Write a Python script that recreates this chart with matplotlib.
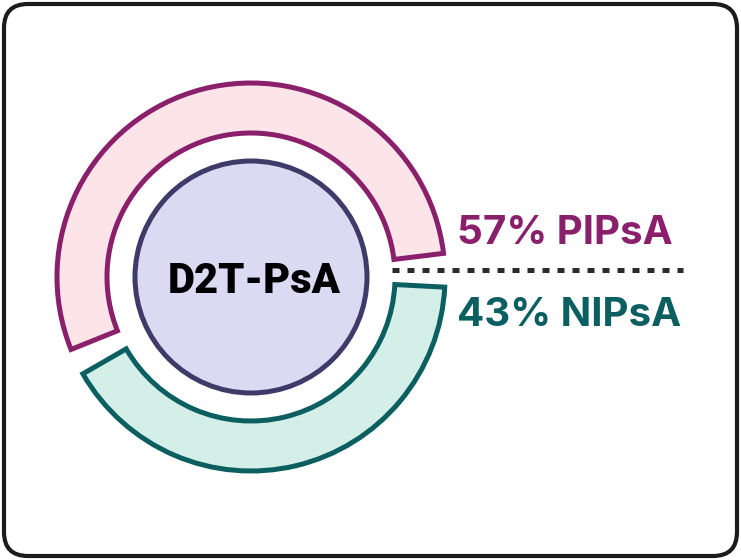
import matplotlib.pyplot as plt
from matplotlib.patches import Wedge, Circle, FancyBboxPatch

# data
center_label = 'D2T-PsA'
groups = ['PIPsA', 'NIPsA']
shares = [57, 43]
edge_colors = ['#8a1f6c', '#0c5f61']
fill_colors = ['#fce4e9', '#d4eee8']

W, H = 741, 560
fig = plt.figure(figsize=(W / 100, H / 100), dpi=100)
ax = fig.add_axes([0, 0, 1, 1])
ax.set_xlim(0, W)
ax.set_ylim(0, H)
ax.set_aspect('equal')
ax.axis('off')

# rounded frame
frame = FancyBboxPatch((4, 4), W - 8, H - 8, boxstyle='round,pad=0,rounding_size=24',
                       fc='white', ec='#1b1b1b', lw=3)
ax.add_patch(frame)

cx, cy = 251, 283
r_out, r_in = 194, 144
gap_right, gap_left = 10, 8
sweep = 360 - gap_right - gap_left

# pink arc goes counterclockwise from just above the dotted line,
# teal arc goes clockwise from just below it
start = gap_right / 2 + 2
a1 = start + sweep * shares[0] / 100
ax.add_patch(Wedge((cx, cy), r_out, start, a1, width=r_out - r_in,
                   fc=fill_colors[0], ec=edge_colors[0], lw=3.6))
end = -gap_right / 2 + 2
b0 = end - sweep * shares[1] / 100
ax.add_patch(Wedge((cx, cy), r_out, b0, end, width=r_out - r_in,
                   fc=fill_colors[1], ec=edge_colors[1], lw=3.6))

# centre circle
ax.add_patch(Circle((cx, cy), 116, fc='#dcdaf3', ec='#3f3a68', lw=3.6))
ax.text(cx + 3, cy, center_label, ha='center', va='center_baseline',
        fontsize=30, fontweight='heavy', family='Roboto', color='black')

# dotted separator
ax.plot([392, 683], [290, 290], color='#2b2b2b', lw=3.6,
        dashes=(1.4, 1.6), solid_capstyle='butt', dash_capstyle='butt')

ax.text(457, 330, f'{shares[0]}% {groups[0]}', ha='left', va='center_baseline',
        fontsize=29, fontweight='bold', family='Inter', color=edge_colors[0])
ax.text(457, 248, f'{shares[1]}% {groups[1]}', ha='left', va='center_baseline',
        fontsize=29, fontweight='bold', family='Inter', color=edge_colors[1])

fig.savefig('out.png', dpi=100)
